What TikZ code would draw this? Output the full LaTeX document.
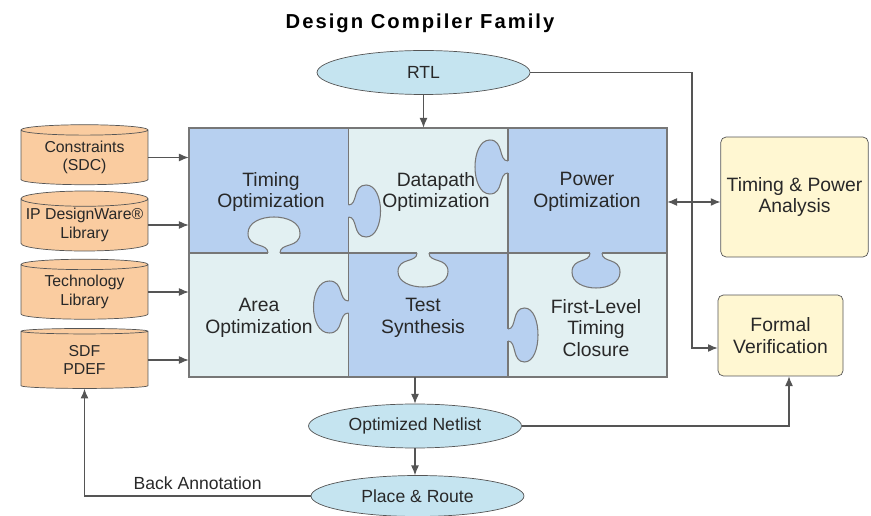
\documentclass[tikz,border=0pt]{standalone}
\usepackage{fontspec}
\setmainfont{Liberation Sans}
\newfontfamily\titlefont[LetterSpace=10]{Liberation Sans}
\usetikzlibrary{positioning,shapes,arrows,arrows.meta,fit}

\definecolor{pzblue}{RGB}{183,208,240}
\definecolor{pzlight}{RGB}{226,240,242}
\definecolor{peach}{RGB}{250,204,160}
\definecolor{ellblue}{RGB}{197,228,240}
\definecolor{boxyellow}{RGB}{255,247,210}
\definecolor{linegray}{RGB}{85,85,85}
\definecolor{textgray}{RGB}{40,40,40}

\tikzset{
  grid/.style={draw=linegray!80, line width=0.6pt},
  pztext/.style={align=center, text=textgray, font=\fontsize{11}{12.2}\selectfont},
  store/.style={cylinder, shape border rotate=90, aspect=0.13, draw=linegray,
    fill=peach, minimum width=2.54cm, minimum height=1.2cm, inner sep=0pt,
    align=center, text=textgray, font=\fontsize{9}{10.5}\selectfont},
  flowell/.style={ellipse, draw=linegray, fill=ellblue, minimum width=4.26cm,
    minimum height=0.88cm, inner sep=0pt, text=textgray, font=\fontsize{10}{12}\selectfont},
  result/.style={rectangle, rounded corners=3pt, draw=linegray, fill=boxyellow,
    align=center, text=textgray, font=\fontsize{11}{12.5}\selectfont},
  flow/.style={draw=linegray, line width=0.6pt, -{Latex[length=5.5pt,width=4.5pt]}},
  flowboth/.style={draw=linegray, line width=0.6pt,
    {Latex[length=5.5pt,width=4.5pt]}-{Latex[length=5.5pt,width=4.5pt]}}
}

% puzzle knob: base x, base y, direction, length, half width, colour
\newcommand{\knob}[6]{%
  \begin{scope}[shift={(#1,#2)},rotate=#3]
    \fill[#6] (-1.5,-6) -- (0,-6) .. controls ({0.3*#4},-6) and ({0.12*#4},-#5) .. ({0.55*#4},-#5)
      .. controls ({1.15*#4},-#5) and ({1.15*#4},#5) .. ({0.55*#4},#5)
      .. controls ({0.12*#4},#5) and ({0.3*#4},6) .. (0,6) -- (-1.5,6) -- cycle;
    \draw[grid] (0,-6) .. controls ({0.3*#4},-6) and ({0.12*#4},-#5) .. ({0.55*#4},-#5)
      .. controls ({1.15*#4},-#5) and ({1.15*#4},#5) .. ({0.55*#4},#5)
      .. controls ({0.12*#4},#5) and ({0.3*#4},6) .. (0,6);
  \end{scope}}

\begin{document}
\begin{tikzpicture}[x=0.02cm, y=-0.02cm]
\useasboundingbox (0,0) rectangle (871,516);

\node[anchor=base, text=black, font=\titlefont\bfseries\fontsize{11.5}{13}\selectfont] (title) at (420,29) {Design Compiler Family};

% puzzle pieces
\fill[pzblue] (189,128) rectangle (348.5,253);
\fill[pzlight] (348.5,128) rectangle (508,253);
\fill[pzblue] (508,128) rectangle (667,253);
\fill[pzlight] (189,253) rectangle (348.5,377);
\fill[pzblue] (348.5,253) rectangle (508,377);
\fill[pzlight] (508,253) rectangle (667,377);
\draw[grid] (189,128) rectangle (667,377);
\draw[grid] (189,253) -- (667,253);
\draw[grid] (348.5,128) -- (348.5,377);
\draw[grid] (508,128) -- (508,377);
\knob{348.5}{211}{0}{32}{26}{pzblue}
\knob{274}{253}{90}{36}{26}{pzlight}
\knob{508}{167}{180}{33}{27}{pzblue}
\knob{423}{253}{270}{34}{25}{pzlight}
\knob{596}{253}{270}{35}{24}{pzblue}
\knob{348.5}{307}{180}{35}{26}{pzblue}
\knob{508}{335}{0}{30}{27}{pzblue}
\node[fit={(189,128) (667,377)}, inner sep=0pt] (puzzle) {};

\node[pztext] (timing) at (271,192) {Timing\\Optimization};
\node[pztext] (datapath) at (436,192) {Datapath\\Optimization};
\node[pztext] (power) at (587,192) {Power\\Optimization};
\node[pztext] (area) at (259,318) {Area\\Optimization};
\node[pztext] (test) at (423,318) {Test\\Synthesis};
\node[pztext] (closure) at (596,328) {First-Level\\Timing\\Closure};

% inputs
\node[store] (sdc) at (84.5,157.5) {Constraints\\(SDC)};
\node[store] (dware) at (84.5,225) {IP DesignWare®\\Library};
\node[store] (techlib) at (84.5,292) {Technology\\Library};
\node[store] (sdf) at (84.5,360) {SDF\\PDEF};

\node[flowell] (rtl) at (423.5,72.5) {RTL};
\node[flowell] (netlist) at (415,426) {Optimized Netlist};
\node[flowell, minimum height=0.82cm] (place) at (417.5,496) {Place \& Route};

\node[result, minimum width=2.86cm, minimum height=2.4cm] (tpa) at (794.5,197) {Timing \& Power\\Analysis};
\node[result, minimum width=2.5cm, minimum height=1.62cm] (fv) at (780.5,335.5) {Formal\\Verification};

\coordinate (bend) at (692,348);

\draw[flow] (sdc.east) -- (sdc.east -| puzzle.west);
\draw[flow] (dware.east) -- (dware.east -| puzzle.west);
\draw[flow] (techlib.east) -- (techlib.east -| puzzle.west);
\draw[flow] (sdf.east) -- (sdf.east -| puzzle.west);
\draw[flow] (rtl.south) -- (rtl.south |- puzzle.north);
\draw[flow] (netlist.north |- puzzle.south) -- (netlist.north);
\draw[flow] (netlist.south) -- (netlist.south |- place.north);
\draw[flowboth] ([yshift=-0.1cm]puzzle.east |- tpa.west) -- ([yshift=-0.1cm]tpa.west);
\draw[flow] (rtl.east) -| (bend) -- (bend -| fv.west);
\draw[flow] (netlist.east) -| ([xshift=0.17cm]fv.south);
\draw[flow] (place.west) -| node[pos=0.25, above, text=textgray, font=\fontsize{10}{12}\selectfont] {Back Annotation} (sdf.south);
\end{tikzpicture}
\end{document}
